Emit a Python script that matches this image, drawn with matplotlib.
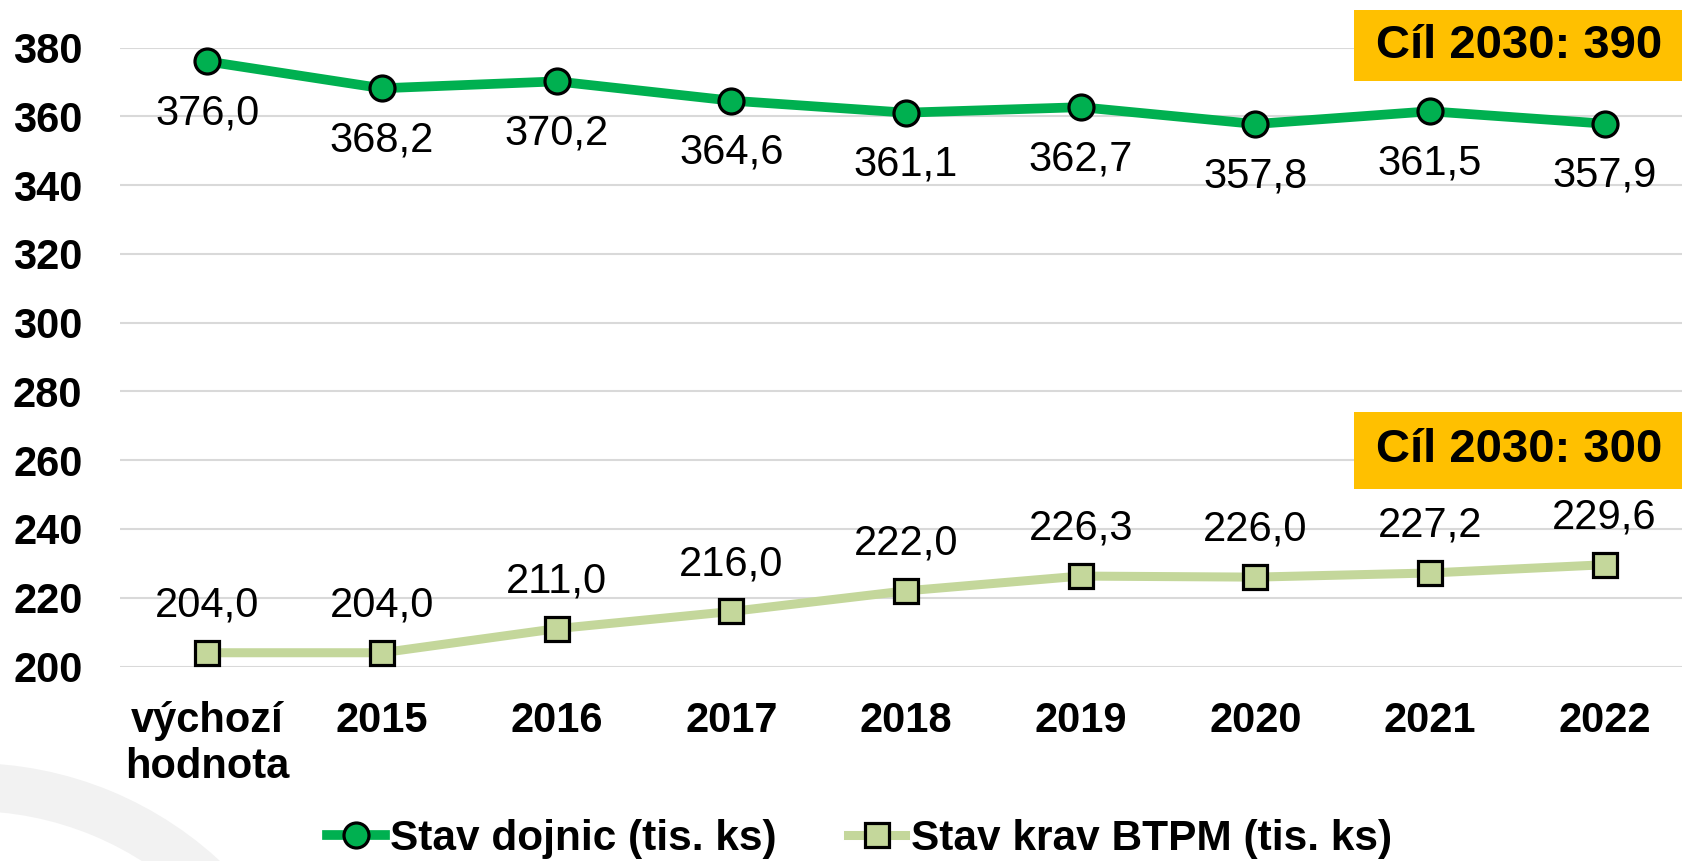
import matplotlib.pyplot as plt
from matplotlib.patches import Rectangle, Wedge

plt.rcParams['font.family'] = ['Liberation Sans', 'DejaVu Sans']

categories = ['výchozí\nhodnota', '2015', '2016', '2017', '2018', '2019', '2020', '2021', '2022']
dojnice = [376.0, 368.2, 370.2, 364.6, 361.1, 362.7, 357.8, 361.5, 357.9]
krav_btpm = [204.0, 204.0, 211.0, 216.0, 222.0, 226.3, 226.0, 227.2, 229.6]
yticks = [200, 220, 240, 260, 280, 300, 320, 340, 360, 380]
targets = ['Cíl 2030: 390', 'Cíl 2030: 300']

W, H = 1682, 861
fig = plt.figure(figsize=(W / 100, H / 100), dpi=100)

# light grey ring in the bottom-left corner (inches, figure dpi transform)
ring = Wedge((-30 / 100, (H - 1131) / 100), 368 / 100, 0, 360, width=48 / 100,
             transform=fig.dpi_scale_trans, facecolor='#f2f2f2', edgecolor='none', zorder=0)
fig.patches.append(ring)

ax = fig.add_axes([120 / W, (H - 666.5) / H, 1572 / W, 618.8 / H])
ax.set_facecolor('none')
x = list(range(len(categories)))

ax.plot(x, dojnice, color='#00B050', lw=7, marker='o', ms=18, mfc='#00B050',
        mec='black', mew=2.3, label='Stav dojnic (tis. ks)', clip_on=False, zorder=4)
ax.plot(x, krav_btpm, color='#C4D79B', lw=6.5, marker='s', ms=17, mfc='#C4D79B',
        mec='black', mew=2.3, label='Stav krav BTPM (tis. ks)', clip_on=False, zorder=4)

for i, v in enumerate(dojnice):
    ax.annotate(f'{v:.1f}'.replace('.', ','), (i, v), xytext=(0, -37.5), textcoords='offset points',
                ha='center', va='center', fontsize=30, color='black')
for i, v in enumerate(krav_btpm):
    ax.annotate(f'{v:.1f}'.replace('.', ','), (i, v), xytext=(0, 34), textcoords='offset points',
                ha='center', va='center', fontsize=30, color='black')

ax.set_xlim(-0.5, len(categories) - 0.5)
ax.set_ylim(200, 380)
ax.set_yticks(yticks)
ax.set_xticks(x)
ax.set_xticklabels(categories, fontsize=30, fontweight='bold')
ax.tick_params(axis='y', labelsize=30, length=0, pad=27)
ax.tick_params(axis='x', length=0, pad=25)
for lab in ax.get_yticklabels():
    lab.set_fontweight('bold')
ax.grid(axis='y', color='#d9d9d9', lw=1.5)
ax.set_axisbelow(True)
for s in ax.spines.values():
    s.set_visible(False)

# target boxes
for (top, bottom), txt in zip([(10, 81), (412, 489)], targets):
    fig.patches.append(Rectangle((1354 / W, (H - bottom) / H), (W - 1354) / W, (bottom - top) / H,
                                 transform=fig.transFigure, facecolor='#FFC000',
                                 edgecolor='none', zorder=5))
    fig.text(1519 / W, (H - (top + bottom) / 2) / H, txt, ha='center', va='center',
             fontsize=34, fontweight='bold', zorder=6)

fig.legend(loc='center', bbox_to_anchor=(0.511, 0.0256), ncol=2, frameon=False,
           prop={'size': 30.5, 'weight': 'bold'}, handlelength=1.35, handletextpad=0.12,
           columnspacing=1.7, borderpad=0, borderaxespad=0)

fig.savefig('out.png', dpi=100)
